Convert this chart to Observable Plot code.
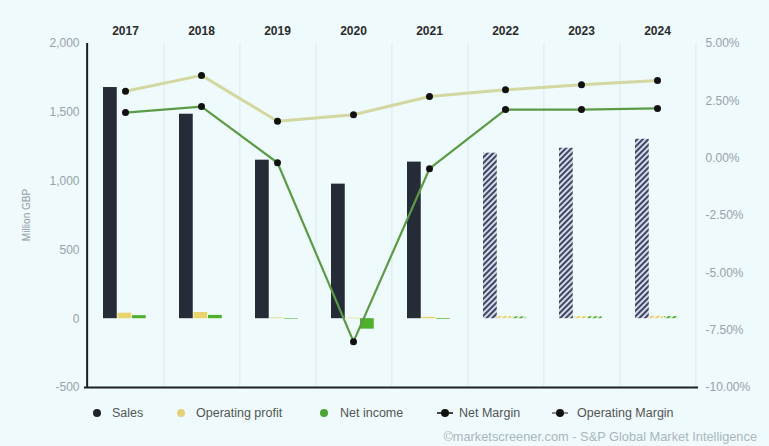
<!DOCTYPE html>
<html><head><meta charset="utf-8">
<script src="https://cdn.jsdelivr.net/npm/d3@7"></script>
<script src="https://cdn.jsdelivr.net/npm/@observablehq/plot@0.6"></script>
<style>
html,body{margin:0;padding:0;background:#eefafb;}
body{font-family:"Liberation Sans",Arial,sans-serif;}
#wrap{position:relative;width:769px;height:446px;overflow:hidden;}
#chart{position:absolute;left:0;top:0;}
#ylabel{position:absolute;left:26px;top:215px;transform:translate(-50%,-50%) rotate(-90deg);font-size:10px;color:#8f9aa3;white-space:nowrap;}
.li{position:absolute;top:405px;height:16px;line-height:16px;font-size:12.5px;color:#555;white-space:nowrap;}
.dot{position:absolute;width:8px;height:8px;border-radius:50%;top:4px;}
.sym{position:absolute;top:7px;height:2px;width:16px;}
.sym::after{content:"";position:absolute;left:4px;top:-3px;width:8px;height:8px;border-radius:50%;background:#111;}
#caption{position:absolute;right:12px;top:429px;font-size:12.8px;color:#aab6be;white-space:nowrap;}
svg [aria-label="x-axis tick label"] text{font-weight:bold;}
</style></head><body>
<div id="wrap">
  <div id="chart"></div>
  <div id="ylabel">Million GBP</div>
  <div id="legend"></div>
  <div id="caption">©marketscreener.com - S&amp;P Global Market Intelligence</div>
</div>
<script>
const years = ["2017","2018","2019","2020","2021","2022","2023","2024"];
const sales = [1680, 1486, 1152, 978, 1138, 1203, 1239, 1304];
const operatingProfit = [40, 45, 5, 4, 10, 16, 16, 18];
const netIncome = [22, 24, -4, -76, -5, 13, 14, 15];
const netMargin = [1.99, 2.25, -0.2, -8.0, -0.46, 2.12, 2.12, 2.17];
const operatingMargin = [2.92, 3.61, 1.61, 1.89, 2.69, 2.98, 3.20, 3.39];
const estimated = [false, false, false, false, false, true, true, true];
const leftTicks = [-500, 0, 500, 1000, 1500, 2000];
const rightTicks = [-10, -7.5, -5, -2.5, 0, 2.5, 5];
const legendItems = ["Sales", "Operating profit", "Net income", "Net Margin", "Operating Margin"];

const W = 769, H = 400, ML = 84, MR = 71, MT = 43, MB = 13;
const step = (W - ML - MR) / years.length;
const yMin = -500, yMax = 2000, pMin = -10, pMax = 5;
const toY = p => yMin + (p - pMin) / (pMax - pMin) * (yMax - yMin);
const fromY = v => pMin + (v - yMin) / (yMax - yMin) * (pMax - pMin);
const fmtMinus = s => s.replace("\u2212", "-");

const rows = years.map((year, i) => ({
  year, sales: sales[i], op: operatingProfit[i], ni: netIncome[i],
  nm: netMargin[i], om: operatingMargin[i], est: estimated[i]
}));
const actual = rows.filter(d => !d.est);
const est = rows.filter(d => d.est);

const bw = 14.5, start = 16;
function bars(field, color, hatch, k) {
  const insetLeft = start + k * bw;
  const insetRight = step - insetLeft - bw;
  return [
    Plot.barY(actual, {x: "year", y: field, fill: color, insetLeft, insetRight}),
    Plot.barY(est, {x: "year", y: field, fill: hatch, insetLeft, insetRight})
  ];
}

const plot = Plot.plot({
  width: W, height: H,
  marginLeft: ML, marginRight: MR, marginTop: MT, marginBottom: MB,
  style: {background: "transparent", fontFamily: "'Liberation Sans', Arial, sans-serif", fontSize: "12px", overflow: "visible"},
  x: {type: "band", domain: years, padding: 0},
  y: {domain: [yMin, yMax]},
  marks: [
    Plot.ruleX(years, {x: d => d, dx: step / 2, y1: yMin, y2: yMax, stroke: "#dde9ef", strokeWidth: 1}),
    ...bars("sales", "#262b38", "url(#hatchSales)", 0),
    ...bars("op", "#e9d36c", "url(#hatchOp)", 1),
    ...bars("ni", "#4fb02c", "url(#hatchNi)", 2),
    Plot.line(rows, {x: "year", y: d => toY(d.om), stroke: "#d3d7a0", strokeWidth: 3}),
    Plot.line(rows, {x: "year", y: d => toY(d.nm), stroke: "#5b9b46", strokeWidth: 2.2}),
    Plot.dot(rows, {x: "year", y: d => toY(d.om), fill: "#111", r: 3.5}),
    Plot.dot(rows, {x: "year", y: d => toY(d.nm), fill: "#111", r: 3.5}),
    Plot.ruleX([years[0]], {x: d => d, dx: -step / 2, y1: yMin, y2: yMax, stroke: "#1c1f26", strokeWidth: 2}),
    Plot.ruleY([yMin], {stroke: "#1c1f26", strokeWidth: 2}),
    Plot.axisX({anchor: "top", tickSize: 0, tickPadding: 9, fontSize: 12, fontWeight: "bold", fill: "#2b2b2b", label: null}),
    Plot.axisY(leftTicks, {anchor: "left", tickSize: 0, tickPadding: 5, fontSize: 12, fill: "#97a2ab", tickFormat: d => fmtMinus(d3.format(",")(d)), label: null}),
    Plot.axisY(rightTicks.map(toY), {anchor: "right", tickSize: 0, tickPadding: 7, fontSize: 12, fill: "#97a2ab", tickFormat: d => fmtMinus(fromY(d).toFixed(2)) + "%", label: null})
  ]
});

const defs = d3.select(plot).insert("defs", ":first-child");
function hatch(id, bg, fg) {
  const p = defs.append("pattern").attr("id", id).attr("patternUnits", "userSpaceOnUse")
    .attr("width", 4).attr("height", 4).attr("patternTransform", "rotate(45)");
  p.append("rect").attr("width", 4).attr("height", 4).attr("fill", bg);
  p.append("rect").attr("width", 2).attr("height", 4).attr("fill", fg);
}
hatch("hatchSales", "#d5dae8", "#3f4663");
hatch("hatchOp", "#f6f0cc", "#e3cf72");
hatch("hatchNi", "#d7efcf", "#55a236");

document.getElementById("chart").appendChild(plot);

const legend = document.getElementById("legend");
const lx = [{dot: 93, text: 112, color: "#1f232c"}, {dot: 177, text: 196, color: "#e6cf7c"},
            {dot: 320, text: 340, color: "#4da534"}, {sym: 437, text: 459, color: "#444"},
            {sym: 552, text: 577, color: "#888"}];
legendItems.forEach((name, i) => {
  const c = lx[i];
  const d = document.createElement("div");
  d.className = "li";
  if (c.dot !== undefined) {
    d.style.left = c.dot + "px";
    d.innerHTML = `<span class="dot" style="left:0;background:${c.color}"></span>`;
  } else {
    d.style.left = c.sym + "px";
    d.innerHTML = `<span class="sym" style="left:0;background:${c.color}"></span>`;
  }
  legend.appendChild(d);
  const t = document.createElement("div");
  t.className = "li"; t.style.left = c.text + "px"; t.textContent = name;
  legend.appendChild(t);
});
</script>
</body></html>
